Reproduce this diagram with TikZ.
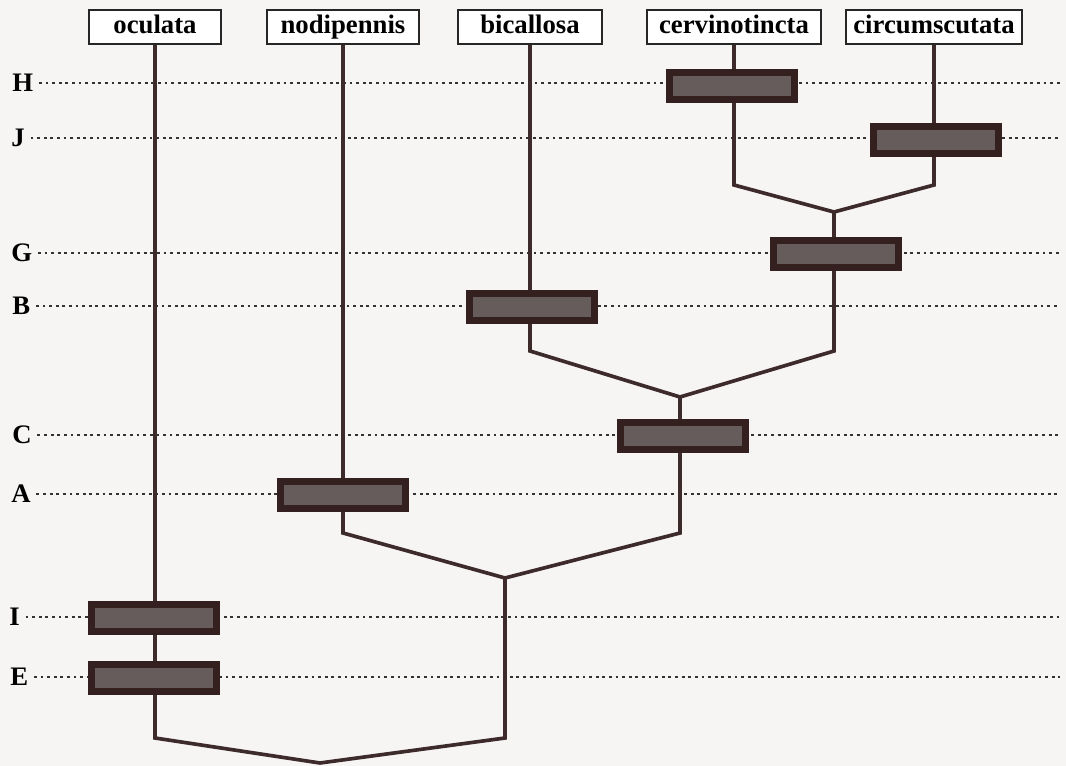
\documentclass[tikz,border=0pt]{standalone}
\usepackage{fontspec}
\setmainfont{Liberation Serif}
\usetikzlibrary{positioning}
\definecolor{trunk}{HTML}{3D2A2A}
\definecolor{barfill}{HTML}{352020}
\definecolor{bargrey}{HTML}{665C5C}
\definecolor{paper}{HTML}{F7F5F4}

\begin{document}
\begin{tikzpicture}[x=0.025cm,y=-0.025cm,
  taxon/.style={draw=black!85,line width=1.6pt,fill=white,inner sep=0pt,minimum height=8.4mm,
    text height=12.5pt,text depth=3pt,font=\bfseries\fontsize{19}{21}\selectfont},
  synap/.style={draw=barfill,fill=bargrey,line width=4.8pt,inner sep=0pt,
    minimum width=31.1mm,minimum height=6.6mm},
  lvl/.style={anchor=west,inner sep=0pt,font=\bfseries\fontsize{19}{21}\selectfont},
  dots/.style={line width=1.1pt,dash pattern=on 2pt off 2.7pt,black!80},
  br/.style={draw=trunk,line width=2.6pt,line join=miter}]
\fill[paper] (0,0) rectangle (1066,766);
\useasboundingbox (0,0) rectangle (1066,766);
\coordinate (rim) at (1060,0);
% level labels and dotted guide lines
\node[lvl] (lH) at (12,83) {H};
\node[lvl] (lJ) at (11,138) {J};
\node[lvl] (lG) at (11,253) {G};
\node[lvl] (lB) at (12,306) {B};
\node[lvl] (lC) at (12,435) {C};
\node[lvl] (lA) at (11,494) {A};
\node[lvl] (lI) at (9,617) {I};
\node[lvl] (lE) at (10,677) {E};
\foreach \l in {lH,lJ,lG,lB,lC,lA,lI,lE}
  \draw[dots] ([xshift=4pt]\l.east) -- (\l.east -| rim);
% taxa
\node[taxon,minimum width=33mm] (oc) at (155,27) {oculata};
\node[taxon,minimum width=38mm] (nod) at (343,27) {nodipennis};
\node[taxon,minimum width=36mm] (bic) at (530,27) {bicallosa};
\node[taxon,minimum width=43.5mm] (cer) at (734,27) {cervinotincta};
\node[taxon,minimum width=44mm] (cir) at (934,27) {circumscutata};
% junctions
\coordinate (j1) at (834,212);
\coordinate (j2) at (680,397);
\coordinate (j3) at (505,578);
\coordinate (j4) at (320,763);
\draw[br] (cer.south) -- (cer.south |- 0,185) -- (j1) -- (cir.south |- 0,185) -- (cir.south);
\draw[br] (j1) -- (j1 |- 0,351) -- (j2) -- (bic.south |- 0,351) -- (bic.south);
\draw[br] (j2) -- (j2 |- 0,533) -- (j3) -- (nod.south |- 0,533) -- (nod.south);
\draw[br] (j3) -- (j3 |- 0,738) -- (j4) -- (oc.south |- 0,738) -- (oc.south);
% character bars
\node[synap] (bH) at (732,86) {};
\node[synap] (bJ) at (936,140) {};
\node[synap] (bG) at (836,254) {};
\node[synap] (bB) at (532,307) {};
\node[synap] (bC) at (683,436) {};
\node[synap] (bA) at (343,495) {};
\node[synap] (bI) at (154,618) {};
\node[synap] (bE) at (154,678) {};
\end{tikzpicture}
\end{document}
